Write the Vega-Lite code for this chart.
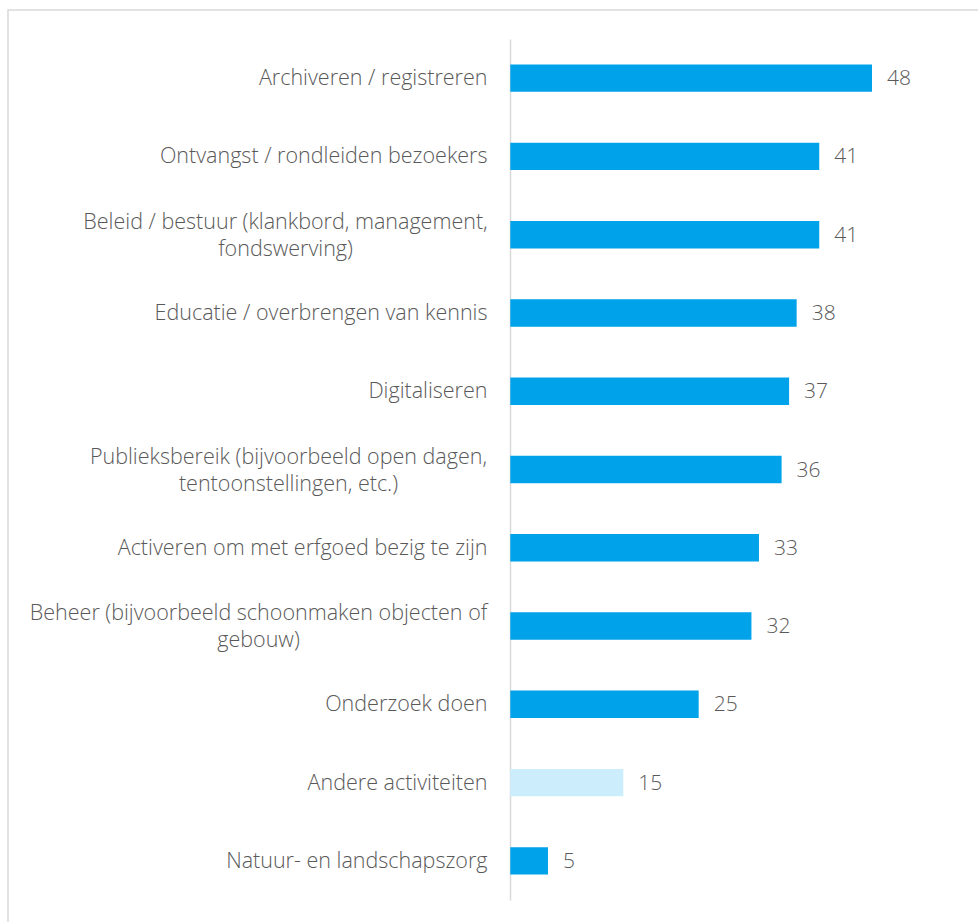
{
  "$schema": "https://vega.github.io/schema/vega-lite/v6.json",
  "autosize": "none",
  "width": 990,
  "height": 930,
  "padding": {"left": 8, "top": 10, "right": 0, "bottom": 0},
  "background": "white",
  "config": {
    "view": {"stroke": "#D9D9D9", "strokeWidth": 1.5},
    "font": "Open Sans"
  },
  "data": {
    "values": [
      {"activiteit": "Archiveren / registreren", "aantal": 48},
      {"activiteit": "Ontvangst / rondleiden bezoekers", "aantal": 41},
      {"activiteit": "Beleid / bestuur (klankbord, management, fondswerving)", "aantal": 41},
      {"activiteit": "Educatie / overbrengen van kennis", "aantal": 38},
      {"activiteit": "Digitaliseren", "aantal": 37},
      {"activiteit": "Publieksbereik (bijvoorbeeld open dagen, tentoonstellingen, etc.)", "aantal": 36},
      {"activiteit": "Activeren om met erfgoed bezig te zijn", "aantal": 33},
      {"activiteit": "Beheer (bijvoorbeeld schoonmaken objecten of gebouw)", "aantal": 32},
      {"activiteit": "Onderzoek doen", "aantal": 25},
      {"activiteit": "Andere activiteiten", "aantal": 15},
      {"activiteit": "Natuur- en landschapszorg", "aantal": 5}
    ]
  },
  "encoding": {
    "y": {
      "field": "activiteit",
      "type": "nominal",
      "sort": null,
      "scale": {"range": [29, 890], "paddingInner": 0.65, "paddingOuter": 0.325},
      "axis": {
        "title": null,
        "offset": -502,
        "ticks": false,
        "domainColor": "#D9D9D9",
        "domainWidth": 1.5,
        "labelFont": "Open Sans",
        "labelFontWeight": 300,
        "labelFontSize": 21.5,
        "labelColor": "#595959",
        "labelAlign": {
          "condition": {"test": "indexof(datum.value, 'Beleid') == 0 || indexof(datum.value, 'Publieksbereik') == 0 || indexof(datum.value, 'Beheer') == 0", "value": "center"},
          "value": "right"
        },
        "labelPadding": {
          "condition": [
            {"test": "indexof(datum.value, 'Beleid') == 0", "value": 225},
            {"test": "indexof(datum.value, 'Publieksbereik') == 0", "value": 222},
            {"test": "indexof(datum.value, 'Beheer') == 0", "value": 252}
          ],
          "value": 23
        },
        "labelOffset": {
          "condition": {"test": "indexof(datum.value, 'Beleid') == 0 || indexof(datum.value, 'Publieksbereik') == 0 || indexof(datum.value, 'Beheer') == 0", "value": -12},
          "value": 1
        },
        "labelLimit": 600,
        "labelLineHeight": 27,
        "labelExpr": "datum.value == 'Beleid / bestuur (klankbord, management, fondswerving)' ? ['Beleid / bestuur (klankbord, management,', 'fondswerving)'] : datum.value == 'Publieksbereik (bijvoorbeeld open dagen, tentoonstellingen, etc.)' ? ['Publieksbereik (bijvoorbeeld open dagen,', 'tentoonstellingen, etc.)'] : datum.value == 'Beheer (bijvoorbeeld schoonmaken objecten of gebouw)' ? ['Beheer (bijvoorbeeld schoonmaken objecten of', 'gebouw)'] : datum.value"
      }
    },
    "x": {
      "field": "aantal",
      "type": "quantitative",
      "scale": {"domain": [0, 48], "range": [502.3, 864], "nice": false, "zero": true},
      "axis": null
    }
  },
  "layer": [
    {
      "mark": {"type": "bar"},
      "encoding": {
        "color": {
          "condition": {"test": "datum.activiteit == 'Andere activiteiten'", "value": "#CCEEFC"},
          "value": "#00A2EA"
        }
      }
    },
    {
      "mark": {"type": "text", "align": "left", "baseline": "middle", "dx": 15, "dy": 1, "font": "Open Sans", "fontWeight": 300, "fontSize": 21, "color": "#595959"},
      "encoding": {"text": {"field": "aantal", "type": "quantitative"}}
    }
  ]
}
